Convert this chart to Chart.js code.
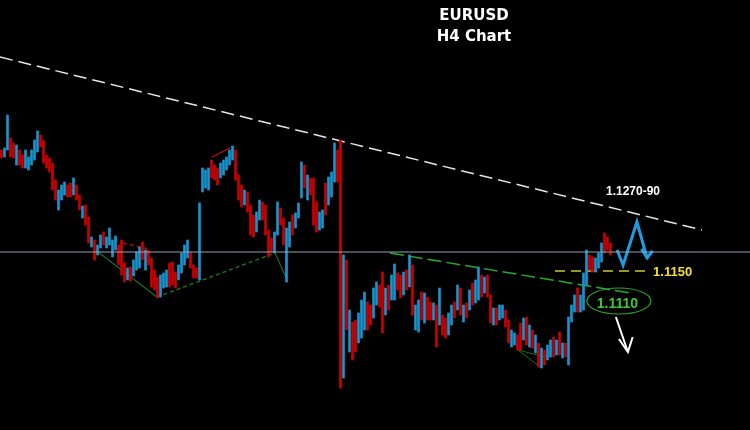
<!DOCTYPE html>
<html>
<head>
<meta charset="utf-8">
<title>EURUSD H4 Chart</title>
<script src="https://cdn.jsdelivr.net/npm/chart.js@4.4.0/dist/chart.umd.min.js"></script>
<style>
  body { margin: 0; background: #000; }
  #wrap { position: relative; width: 750px; height: 430px; background: #000; }
</style>
</head>
<body>
<div id="wrap"><canvas id="fx-chart"></canvas></div>
<script>
// H4 candles, one per bar slot (high / low price, u = bullish, d = bearish)
const highs = [
  1.1271, 1.1273, 1.1306, 1.1283, 1.1278, 1.1276, 1.1271, 1.1266, 1.1271, 1.1264,
  1.1271, 1.1281, 1.1290, 1.1286, 1.1281, 1.1266, 1.1263, 1.1258, 1.1241, 1.1231,
  1.1236, 1.1239, 1.1236, 1.1238, 1.1243, 1.1236, 1.1226, 1.1215, 1.1216, 1.1204,
  1.1184, 1.1181, 1.1176, 1.1186, 1.1189, 1.1184, 1.1193, 1.1181, 1.1185, 1.1176,
  1.1181, 1.1158, 1.1153, 1.1154, 1.1161, 1.1169, 1.1174, 1.1179, 1.1171, 1.1171,
  1.1163, 1.1151, 1.1144, 1.1146, 1.1148, 1.1151, 1.1158, 1.1159, 1.1149, 1.1156,
  1.1168, 1.1176, 1.1181, 1.1169, 1.1156, 1.1153, 1.1218, 1.1253, 1.1251, 1.1253,
  1.1261, 1.1256, 1.1253, 1.1258, 1.1261, 1.1264, 1.1271, 1.1275, 1.1271, 1.1246,
  1.1236, 1.1231, 1.1229, 1.1216, 1.1206, 1.1209, 1.1221, 1.1219, 1.1216, 1.1191,
  1.1183, 1.1189, 1.1219, 1.1213, 1.1203, 1.1193, 1.1199, 1.1206, 1.1208, 1.1218,
  1.1259, 1.1256, 1.1246, 1.1243, 1.1243, 1.1219, 1.1209, 1.1211, 1.1238, 1.1244,
  1.1249, 1.1278, 1.1271, 1.1281, 1.1166, 1.1161, 1.1111, 1.1099, 1.1101, 1.1108,
  1.1121, 1.1129, 1.1119, 1.1116, 1.1133, 1.1139, 1.1136, 1.1149, 1.1133, 1.1136,
  1.1146, 1.1157, 1.1148, 1.1146, 1.1149, 1.1151, 1.1166, 1.1156, 1.1116, 1.1121,
  1.1129, 1.1128, 1.1124, 1.1119, 1.1118, 1.1116, 1.1133, 1.1106, 1.1103, 1.1108,
  1.1116, 1.1119, 1.1136, 1.1133, 1.1116, 1.1118, 1.1131, 1.1138, 1.1141, 1.1154,
  1.1146, 1.1144, 1.1146, 1.1126, 1.1113, 1.1113, 1.1116, 1.1116, 1.1111, 1.1101,
  1.1091, 1.1088, 1.1086, 1.1098, 1.1103, 1.1104, 1.1096, 1.1091, 1.1086, 1.1078,
  1.1073, 1.1071, 1.1076, 1.1081, 1.1084, 1.1081, 1.1089, 1.1078, 1.1078, 1.1104,
  1.1116, 1.1126, 1.1133, 1.1126, 1.1148, 1.1171, 1.1166, 1.1164, 1.1163, 1.1168,
  1.1178, 1.1188, 1.1184, 1.1178
];
const lows = [
  1.1263, 1.1264, 1.1271, 1.1264, 1.1263, 1.1256, 1.1256, 1.1253, 1.1253, 1.1251,
  1.1256, 1.1261, 1.1269, 1.1274, 1.1258, 1.1253, 1.1249, 1.1231, 1.1221, 1.1211,
  1.1221, 1.1226, 1.1224, 1.1224, 1.1226, 1.1221, 1.1211, 1.1203, 1.1196, 1.1178,
  1.1174, 1.1161, 1.1166, 1.1173, 1.1176, 1.1173, 1.1176, 1.1164, 1.1171, 1.1156,
  1.1146, 1.1139, 1.1141, 1.1140, 1.1145, 1.1151, 1.1153, 1.1161, 1.1151, 1.1156,
  1.1134, 1.1131, 1.1123, 1.1124, 1.1133, 1.1134, 1.1134, 1.1136, 1.1133, 1.1141,
  1.1148, 1.1156, 1.1163, 1.1153, 1.1143, 1.1143, 1.1141, 1.1229, 1.1233, 1.1231,
  1.1243, 1.1241, 1.1236, 1.1243, 1.1246, 1.1251, 1.1256, 1.1261, 1.1241, 1.1221,
  1.1214, 1.1216, 1.1209, 1.1186, 1.1184, 1.1189, 1.1201, 1.1201, 1.1186, 1.1164,
  1.1169, 1.1168, 1.1186, 1.1196, 1.1176, 1.1139, 1.1174, 1.1186, 1.1193, 1.1203,
  1.1223, 1.1233, 1.1221, 1.1226, 1.1196, 1.1189, 1.1191, 1.1193, 1.1206, 1.1216,
  1.1224, 1.1239, 1.1239, 1.1033, 1.1043, 1.1091, 1.1069, 1.1061, 1.1069, 1.1078,
  1.1083, 1.1091, 1.1091, 1.1096, 1.1103, 1.1116, 1.1114, 1.1088, 1.1106, 1.1111,
  1.1121, 1.1121, 1.1131, 1.1123, 1.1126, 1.1131, 1.1134, 1.1106, 1.1091, 1.1089,
  1.1101, 1.1098, 1.1101, 1.1101, 1.1101, 1.1074, 1.1096, 1.1086, 1.1083, 1.1086,
  1.1096, 1.1103, 1.1111, 1.1106, 1.1099, 1.1103, 1.1111, 1.1116, 1.1118, 1.1121,
  1.1124, 1.1128, 1.1124, 1.1098, 1.1096, 1.1096, 1.1101, 1.1103, 1.1094, 1.1078,
  1.1074, 1.1076, 1.1071, 1.1071, 1.1081, 1.1076, 1.1074, 1.1073, 1.1068, 1.1054,
  1.1053, 1.1056, 1.1061, 1.1064, 1.1064, 1.1066, 1.1066, 1.1063, 1.1064, 1.1056,
  1.1099, 1.1109, 1.1109, 1.1109, 1.1111, 1.1136, 1.1151, 1.1149, 1.1149, 1.1153,
  1.1159, 1.1168, 1.1171, 1.1166
];
const dirs =
  'duuddudduu' + 'uuuddddddu' + 'uudduddudd' + 'uduuduuuud' + 'dduduuudud' +
  'ddduuudddu' + 'uuuddduuuu' + 'ddduuuuudd' + 'duddduuddd' + 'duudduuduu' +
  'ududdduudu' + 'uuddududdu' + 'uudduuddud' + 'uuddududuu' + 'duddududdu' +
  'ududududuu' + 'dudduduudd' + 'uuddududud' + 'uduudududu' + 'uuduuudduu' +
  'uddd';

// drawn levels and pattern lines: [slot, price] pairs
const trendLine = [[0, 1.1364], [234, 1.1191]];
const pivotLine = [[0, 1.1169], [250, 1.1169]];
const supportLine = [[130, 1.1168], [210, 1.1128]];
const level1150 = [[185, 1.1150], [215.7, 1.1150]];
const patternLeft = [[32.7, 1.1169], [52.3, 1.1124]];
const patternBase = [[52.3, 1.1124], [91.7, 1.1168]];
const patternRight = [[91.7, 1.1168], [96, 1.1139]];
const redDotted = [[41, 1.1178], [49.5, 1.1172]];
const redTop = [[70.7, 1.1264], [76.7, 1.1273]];
const smallWedgeA = [[172.7, 1.1071], [180, 1.1054]];
const smallWedgeB = [[172.7, 1.1071], [181.7, 1.1064]];
const blueWave = [[205.7, 1.1171], [207.7, 1.1156], [212.3, 1.1199], [215.7, 1.1163]];
const blueHead = [[213.8, 1.1172], [215.7, 1.1163], [217.5, 1.1170]];
const whiteArrow = [[205.3, 1.1104], [209.3, 1.1069]];
const whiteHead = [[206.3, 1.1082], [209.3, 1.1069], [210.9, 1.1084]];

const RED = '#cc0000';
const BLUE = '#1795cf';

const candles = highs.map((h, i) => ({ x: i + 0.5, y: [lows[i], h] }));
const candleColors = highs.map((h, i) => dirs[i] === 'u' ? BLUE : RED);

function lineSet(points, color, width, dash) {
  return {
    type: 'line',
    data: points.map(p => ({ x: p[0], y: p[1] })),
    borderColor: color,
    borderWidth: width,
    borderDash: dash || [],
    pointRadius: 0,
    fill: false,
    tension: 0
  };
}

const labelsPlugin = {
  id: 'labels',
  afterDatasetsDraw(chart) {
    const ctx = chart.ctx;
    const xs = chart.scales.x;
    const ys = chart.scales.y;
    ctx.save();

    // target ellipse
    ctx.strokeStyle = '#2e9e2e';
    ctx.lineWidth = 1.2;
    ctx.beginPath();
    ctx.ellipse(xs.getPixelForValue(206.3), ys.getPixelForValue(1.1120), 32, 13, 0, 0, Math.PI * 2);
    ctx.stroke();

    ctx.textBaseline = 'middle';
    ctx.textAlign = 'center';
    ctx.font = 'bold 14px "Liberation Sans", Arial, sans-serif';
    ctx.fillStyle = '#3cc83c';
    ctx.fillText('1.1110', xs.getPixelForValue(205.8), ys.getPixelForValue(1.1117));

    ctx.fillStyle = '#ffffff';
    ctx.font = 'bold 12px "Liberation Sans", Arial, sans-serif';
    ctx.fillText('1.1270-90', xs.getPixelForValue(211), ys.getPixelForValue(1.1229));

    ctx.textAlign = 'left';
    ctx.font = 'bold 13px "Liberation Sans", Arial, sans-serif';
    ctx.fillStyle = '#f2e22c';
    ctx.fillText('1.1150', xs.getPixelForValue(217.7), ys.getPixelForValue(1.1149));

    // title
    ctx.textAlign = 'center';
    ctx.fillStyle = '#ffffff';
    ctx.font = 'bold 15px "DejaVu Sans", Verdana, sans-serif';
    ctx.fillText('EURUSD', 474, 16);
    ctx.fillText('H4 Chart', 474, 37);
    ctx.restore();
  }
};

const ctx = document.getElementById('fx-chart').getContext('2d');
const fxChart = new Chart(ctx, {
  type: 'bar',
  data: {
    datasets: [
      lineSet(pivotLine, '#93a4b8', 1),
      {
        type: 'bar',
        data: candles,
        backgroundColor: candleColors,
        borderWidth: 0,
        barThickness: 2
      },
      lineSet(trendLine, '#e6e6e6', 1.5, [13, 6]),
      lineSet(patternLeft, '#1d6e1d', 1.2),
      lineSet(patternBase, '#1d6e1d', 1.5, [4, 3]),
      lineSet(patternRight, '#1d6e1d', 1.2),
      lineSet(redDotted, '#a31010', 1.5, [4, 3]),
      lineSet(redTop, '#c01010', 1.2),
      lineSet(smallWedgeA, '#1d6e1d', 1),
      lineSet(smallWedgeB, '#1d6e1d', 1),
      lineSet(supportLine, '#2aa82a', 1.5, [14, 5]),
      lineSet(level1150, '#c9c934', 1.5, [10, 6]),
      lineSet(blueWave, '#1f9de2', 3),
      lineSet(blueHead, '#1f9de2', 3),
      lineSet(whiteArrow, '#ffffff', 2),
      lineSet(whiteHead, '#ffffff', 2)
    ]
  },
  options: {
    responsive: true,
    maintainAspectRatio: false,
    animation: false,
    layout: { padding: 0 },
    plugins: {
      legend: { display: false },
      tooltip: { enabled: false }
    },
    scales: {
      x: { type: 'linear', min: 0, max: 250, offset: false, display: false },
      y: { min: 1.0991, max: 1.1421, display: false }
    }
  },
  plugins: [labelsPlugin]
});
</script>
</body>
</html>
